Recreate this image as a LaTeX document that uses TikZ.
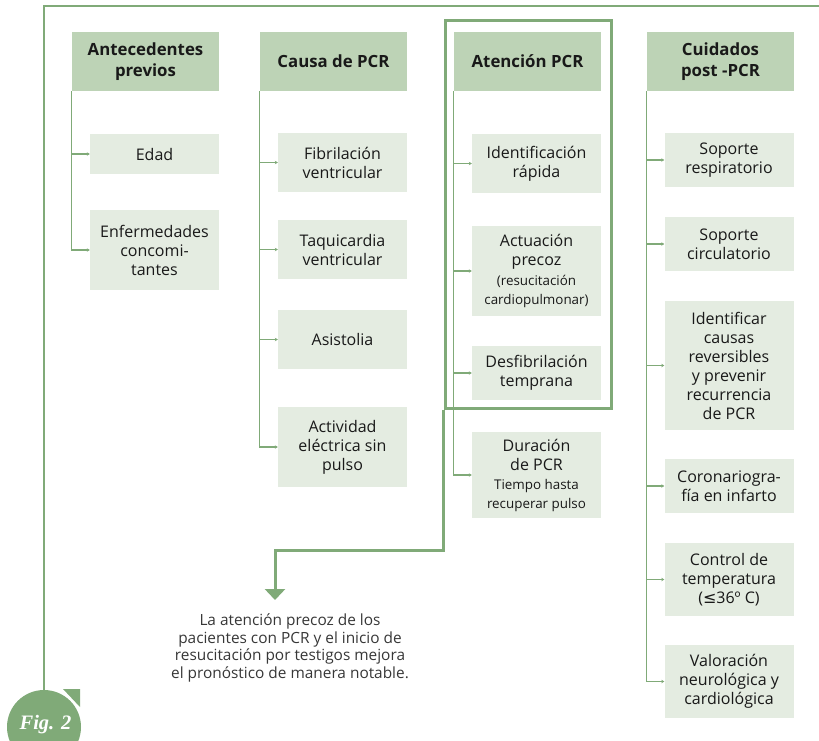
\documentclass[tikz,border=0pt]{standalone}
\usepackage{fontspec}
\setmainfont{Open Sans}
\newfontfamily\symfont{DejaVu Sans}
\newfontfamily\figfont{Liberation Serif}
\usetikzlibrary{arrows.meta,positioning}
\definecolor{leafgreen}{RGB}{128,170,120}
\definecolor{headfill}{RGB}{189,211,182}
\definecolor{itemfill}{RGB}{228,236,225}
\definecolor{inkdark}{RGB}{25,25,25}
\definecolor{notegray}{RGB}{55,55,55}
\newcommand{\smalltxt}{\fontsize{13.4}{16}\selectfont}

\begin{document}
\begin{tikzpicture}[x=1pt, y=-1pt,
    head/.style={rectangle, fill=headfill, minimum width=147pt, minimum height=59pt, align=center, text=inkdark, font=\fontsize{16.8}{21}\selectfont\bfseries},
    item/.style={rectangle, fill=itemfill, minimum width=129pt, align=center, text=inkdark, font=\fontsize{16}{19}\selectfont},
    branch/.style={draw=leafgreen, line width=1.2pt, -{Stealth[length=3pt, width=3.5pt]}},
    outline/.style={draw=leafgreen, line width=1.3pt},
    focusline/.style={draw=leafgreen, line width=3pt}
]
    \clip (0,0) rectangle (819,740);

    % outer frame and badge
    \node[circle, fill=leafgreen, minimum size=74pt, inner sep=0pt] (badge) at (44,727) {};
    \node[text=white, font=\figfont\fontsize{20.5}{21}\selectfont\bfseries\itshape] (figlabel) at (45.5,725) {Fig. 2};
    \fill[leafgreen] (63,689) -- (80,689) -- (80,707) -- cycle;
    \draw[outline] (badge.north) |- (819,6);

    % headers
    \node[head] (h1) at (145.5,61.5) {Antecedentes\\previos};
    \node[head] (h2) at (333.5,61.5) {Causa de PCR};
    \node[head] (h3) at (527.5,61.5) {Atención PCR};
    \node[head] (h4) at (720.5,61.5) {Cuidados\\post -PCR};

    % column 1
    \node[item, minimum height=40pt] (a1) at (154.5,154) {Edad};
    \node[item, minimum height=80pt] (a2) at (154.5,250) {Enfermedades\\concomi-\\tantes};

    % column 2
    \node[item, minimum height=59pt] (c1) at (342.5,162.5) {Fibrilación\\ventricular};
    \node[item, minimum height=59pt] (c2) at (342.5,249.5) {Taquicardia\\ventricular};
    \node[item, minimum height=59pt] (c3) at (342.5,339.5) {Asistolia};
    \node[item, minimum height=80pt] (c4) at (342.5,447) {Actividad\\eléctrica sin\\pulso};

    % column 3
    \node[item, minimum height=90pt] (p2) at (536.5,271) {Actuación\\precoz\\[1pt]{\smalltxt (resucitación}\\{\smalltxt cardiopulmonar)}};
    \node[item, minimum height=59pt] (p1) at (536.5,163.5) {Identificación\\rápida};
    \node[item, minimum height=54pt] (p3) at (536.5,373) {Desfibrilación\\temprana};
    \node[item, minimum height=86pt] (p4) at (536.5,475) {Duración\\de PCR\\{\smalltxt Tiempo hasta}\\{\smalltxt recuperar pulso}};

    % column 4
    \node[item, minimum height=54pt] (s1) at (729,160) {Soporte\\respiratorio};
    \node[item, minimum height=54pt] (s2) at (729,244) {Soporte\\circulatorio};
    \node[item, minimum height=129pt] (s3) at (729,365.5) {Identificar\\causas\\reversibles\\y prevenir\\recurrencia\\de PCR};
    \node[item, minimum height=54pt] (s4) at (729,486) {Coronariogra-\\fía en infarto};
    \node[item, minimum height=73pt] (s5) at (729,579.5) {Control de\\temperatura\\({\symfont ≤}36º C)};
    \node[item, minimum height=73pt] (s6) at (729,681.5) {Valoración\\neurológica y\\cardiológica};

    % branches
    \draw[branch] (h1.south west) |- (a1.west);
    \draw[branch] (h1.south west) |- (a2.west);
    \draw[branch] (h2.south west) |- (c1.west);
    \draw[branch] (h2.south west) |- (c2.west);
    \draw[branch] (h2.south west) |- (c3.west);
    \draw[branch] (h2.south west) |- (c4.west);
    \draw[branch] (h3.south west) |- (p1.west);
    \draw[branch] (h3.south west) |- (p2.west);
    \draw[branch] (h3.south west) |- (p3.west);
    \draw[branch] (h3.south west) |- (p4.west);
    \draw[branch] (h4.south west) |- (s1.west);
    \draw[branch] (h4.south west) |- (s2.west);
    \draw[branch] (h4.south west) |- (s3.west);
    \draw[branch] (h4.south west) |- (s4.west);
    \draw[branch] (h4.south west) |- (s5.west);
    \draw[branch] (h4.south west) |- (s6.west);

    % highlighted attention column and note
    \node[focusline, rectangle, minimum width=166pt, minimum height=388pt, inner sep=0pt] (focus) at (528,214) {};
    \coordinate (turn) at (275,550);
    \coordinate (tip) at (275,600);
    \draw[focusline, -{Triangle[length=11pt, width=20pt]}] (focus.south west) |- (turn) -- (tip);
    \node[align=center, text=notegray, font=\fontsize{15.4}{17.6}\selectfont] (note) at (290,648) {La atención precoz de los\\pacientes con PCR y el inicio de\\resucitación por testigos mejora\\el pronóstico de manera notable.};
\end{tikzpicture}
\end{document}
